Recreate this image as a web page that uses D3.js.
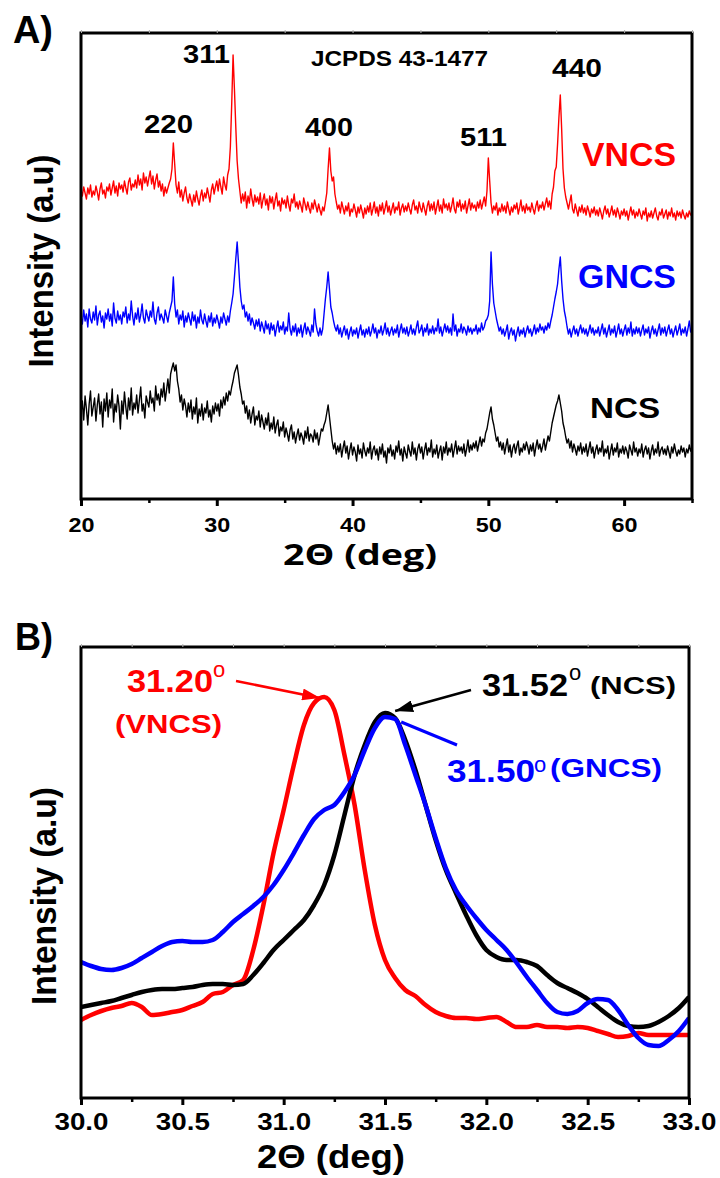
<!DOCTYPE html>
<html>
<head>
<meta charset="utf-8">
<script src="https://cdn.jsdelivr.net/npm/d3@7"></script>
<style>
  body { margin: 0; background: #fff; }
  text { font-family: "Liberation Sans", Arial, sans-serif; font-weight: bold; }
  .title { font-family: "Open Sans", "Liberation Sans", sans-serif; }
</style>
</head>
<body>
<div id="main"></div>
<script>

/// Panel A data: wide XRD scans, 20-65 deg every 0.1 deg (intensity in a.u., offset stacked) ///
const thetaStartA = 20, thetaStepA = 0.1;

const vncsA = [
  309, 303, 312, 306, 300, 311, 305, 314, 302, 308,   // 20
  304, 313, 307, 299, 310, 316, 305, 309, 301, 312,
  308, 315, 304, 311, 318, 306, 313, 303, 316, 310,
  314, 307, 318, 311, 305, 317, 321, 309, 315, 312,
  319, 311, 324, 314, 320, 309, 326, 316, 322, 313,
  321, 328, 315, 323, 310, 319, 325, 312, 318, 308,   // 25
  315, 303, 312, 306, 311, 316, 320, 330, 356, 335,
  314, 306, 317, 302, 309, 298, 306, 312, 301, 296,
  305, 299, 293, 304, 297, 308, 300, 294, 303, 309,
  298, 306, 301, 311, 304, 297, 309, 315, 305, 312,
  318, 308, 320, 312, 305, 322, 314, 309, 324, 330,   // 30
  352, 395, 444, 410, 372, 338, 320, 308, 296, 305,
  298, 307, 291, 303, 296, 310, 300, 293, 304, 297,
  302, 295, 306, 291, 299, 305, 294, 300, 289, 303,
  296, 302, 290, 299, 306, 293, 298, 288, 301, 295,
  299, 291, 303, 294, 288, 300, 296, 305, 292, 297,   // 35
  290, 298, 293, 287, 301, 295, 289, 297, 291, 286,
  296, 290, 299, 293, 287, 295, 289, 284, 292, 288,
  297, 306, 330, 351, 328, 318, 322, 305, 297, 290,
  294, 286, 297, 291, 285, 293, 288, 296, 283, 290,
  287, 295, 289, 282, 292, 286, 294, 288, 281, 291,   // 40
  285, 293, 287, 296, 284, 290, 297, 286, 292, 283,
  294, 288, 296, 285, 291, 298, 287, 293, 284, 290,
  296, 286, 292, 289, 297, 284, 291, 295, 287, 293,
  288, 296, 290, 285, 294, 299, 289, 293, 286, 297,
  291, 287, 296, 290, 284, 293, 298, 288, 295, 289,   // 45
  297, 285, 292, 299, 288, 294, 286, 300, 291, 295,
  289, 296, 287, 293, 301, 290, 286, 297, 292, 299,
  288, 295, 290, 298, 286, 293, 300, 289, 296, 291,
  294, 288, 297, 291, 299, 290, 296, 302, 293, 308,
  341, 318, 296, 286, 293, 289, 296, 284, 291, 287,   // 50
  295, 288, 293, 286, 297, 290, 284, 292, 287, 294,
  290, 296, 285, 291, 299, 288, 293, 286, 295, 289,
  292, 287, 296, 290, 285, 293, 298, 288, 294, 291,
  297, 289, 295, 301, 292, 298, 290, 305, 312, 328,
  332, 355, 382, 404, 370, 330, 311, 302, 296, 290,   // 55
  297, 304, 290, 286, 295, 289, 283, 292, 287, 294,
  286, 291, 284, 293, 288, 282, 290, 286, 292, 284,
  289, 283, 291, 286, 280, 288, 293, 285, 290, 282,
  287, 293, 284, 289, 282, 291, 286, 280, 288, 284,
  290, 283, 288, 279, 286, 292, 284, 289, 281, 287,   // 60
  283, 290, 285, 280, 288, 284, 291, 278, 286, 282,
  288, 281, 286, 291, 283, 279, 287, 284, 290, 281,
  285, 289, 280, 287, 283, 291, 282, 286, 279, 288,
  283, 287, 281, 289, 284, 280, 286, 282, 288, 284,
  286
];

const gncsA = [
  182, 175, 189, 178, 185, 172, 190, 180, 176, 187,   // 20
  179, 193, 174, 184, 188, 177, 183, 171, 186, 180,
  190, 178, 185, 173, 196, 181, 176, 188, 179, 184,
  175, 187, 182, 192, 176, 185, 179, 198, 183, 174,
  186, 180, 191, 177, 184, 195, 181, 176, 189, 183,
  178, 188, 182, 197, 180, 175, 186, 192, 179, 185,   // 25
  181, 176, 189, 183, 177, 186, 192, 198, 222, 195,
  182, 189, 175, 184, 179, 188, 172, 183, 177, 186,
  180, 174, 187, 178, 184, 171, 182, 176, 189, 179,
  175, 185, 178, 172, 183, 177, 186, 173, 181, 176,
  184, 178, 171, 182, 176, 186, 180, 174, 183, 177,   // 30
  188, 196, 205, 222, 240, 257, 236, 212, 198, 190,
  194, 182, 187, 178, 185, 174, 181, 176, 170, 179,
  173, 180, 168, 177, 172, 166, 178, 170, 175, 165,
  176, 169, 174, 163, 171, 178, 167, 173, 169, 177,
  165, 172, 168, 186, 170, 164, 173, 167, 175, 163,   // 35
  171, 166, 174, 162, 170, 176, 165, 172, 168, 163,
  174, 167, 190, 175, 168, 163, 171, 164, 170, 185,
  200, 212, 227, 210, 192, 186, 178, 172, 168, 174,
  165, 171, 162, 168, 173, 164, 170, 160, 167, 172,
  163, 169, 165, 171, 161, 168, 174, 164, 169, 162,   // 40
  170, 165, 172, 163, 168, 175, 166, 171, 161, 169,
  166, 173, 164, 169, 176, 165, 171, 163, 168, 172,
  164, 170, 166, 174, 162, 169, 175, 166, 171, 165,
  172, 163, 168, 174, 165, 170, 164, 172, 178, 166,
  169, 174, 163, 171, 167, 175, 164, 170, 166, 173,   // 45
  165, 171, 168, 180, 166, 172, 163, 169, 175, 167,
  173, 166, 171, 164, 185, 168, 174, 163, 170, 167,
  175, 166, 172, 169, 164, 173, 167, 171, 165, 170,
  168, 174, 165, 171, 167, 176, 169, 172, 178, 180,
  184, 198, 247, 215, 196, 188, 180, 174, 168, 172,   // 50
  165, 170, 163, 168, 174, 160, 167, 171, 164, 169,
  158, 166, 172, 163, 169, 165, 171, 162, 168, 173,
  166, 170, 163, 168, 174, 165, 171, 167, 175, 169,
  172, 166, 173, 169, 176, 171, 178, 184, 192, 200,
  207, 215, 230, 242, 218, 200, 188, 181, 172, 165,   // 55
  170, 162, 168, 173, 165, 170, 163, 169, 174, 166,
  171, 165, 170, 163, 168, 174, 166, 171, 164, 169,
  166, 172, 163, 169, 175, 165, 171, 162, 168, 174,
  164, 170, 166, 173, 162, 168, 175, 165, 170, 163,
  169, 174, 164, 171, 166, 177, 163, 170, 165, 172,   // 60
  166, 171, 163, 169, 174, 164, 170, 166, 172, 161,
  168, 173, 165, 170, 163, 169, 175, 164, 171, 166,
  172, 163, 169, 174, 165, 170, 162, 168, 173, 164,
  169, 175, 164, 170, 166, 172, 163, 170, 178, 167,
  171
];

const ncsA = [
  86, 98, 79, 103, 90, 74, 95, 108, 83, 92,           // 20
  101, 78, 94, 105, 85, 97, 72, 100, 88, 106,
  82, 99, 91, 110, 77, 95, 87, 104, 93, 70,
  98, 85, 107, 92, 80, 101, 89, 111, 84, 96,
  90, 104, 86, 99, 112, 88, 95, 81, 103, 97,
  92, 108, 96, 101, 88, 113, 99, 105, 94, 110,        // 25
  102, 116, 98, 109, 120, 106, 125, 131, 136, 128,
  134, 118, 110, 97, 104, 89, 100, 93, 82, 96,
  87, 99, 80, 92, 85, 101, 76, 90, 83, 95,
  79, 91, 86, 98, 82, 89, 77, 93, 85, 96,
  88, 95, 83, 99, 91, 102, 94, 106, 98, 108,          // 30
  104, 112, 118, 126, 130, 134, 124, 112, 105, 95,
  98, 86, 93, 80, 89, 76, 85, 92, 74, 83,
  79, 88, 72, 84, 77, 70, 81, 74, 86, 68,
  76, 70, 82, 66, 74, 79, 63, 72, 68, 77,
  62, 71, 65, 58, 69, 74, 60, 67, 56, 64,             // 35
  70, 59, 66, 62, 55, 68, 61, 72, 58, 65,
  63, 57, 69, 60, 66, 54, 62, 70, 68, 74,
  78, 86, 94, 82, 70, 58, 50, 56, 45, 53,
  47, 55, 42, 51, 58, 46, 53, 40, 49, 56,
  44, 52, 47, 38, 54, 45, 50, 41, 56, 48,             // 40
  43, 51, 46, 57, 40, 49, 53, 44, 50, 39,
  52, 45, 55, 42, 48, 36, 51, 46, 54, 43,
  49, 40, 53, 47, 58, 44, 50, 38, 52, 46,
  41, 54, 48, 43, 57, 45, 51, 39, 50, 55,
  46, 52, 40, 49, 56, 44, 51, 47, 59, 42,             // 45
  50, 45, 54, 41, 48, 53, 39, 52, 46, 57,
  44, 51, 47, 55, 42, 50, 58, 45, 53, 48,
  52, 46, 55, 43, 50, 59, 47, 54, 49, 56,
  51, 58, 48, 55, 62, 53, 60, 57, 66, 70,
  78, 86, 92, 80, 74, 66, 58, 62, 52, 57,             // 50
  49, 56, 45, 53, 60, 47, 54, 42, 51, 55,
  46, 53, 58, 44, 51, 47, 55, 49, 57, 52,
  45, 54, 48, 56, 43, 52, 59, 50, 55, 47,
  53, 60, 49, 56, 63, 58, 67, 76, 82, 88,
  94, 98, 104, 96, 88, 76, 70, 62, 56, 60,            // 55
  51, 58, 47, 55, 50, 44, 53, 48, 56, 45,
  52, 47, 55, 43, 50, 57, 46, 52, 41, 49,
  54, 45, 51, 47, 58, 43, 50, 46, 53, 40,
  48, 55, 44, 51, 47, 56, 42, 50, 46, 53,
  45, 52, 48, 41, 54, 49, 44, 57, 47, 51,             // 60
  43, 50, 46, 55, 42, 49, 53, 45, 51, 40,
  48, 54, 44, 50, 46, 57, 43, 49, 52, 45,
  50, 44, 53, 47, 41, 52, 46, 55, 48, 43,
  49, 45, 53, 47, 51, 42, 50, 46, 54, 48,
  52
];

/// Panel B data: zoom on the (311) peak, 30-33 deg every 0.05 deg ///
const thetaStartB = 30, thetaStepB = 0.05;

const vncsB = [
  78, 83, 87, 90, 92, 95, 91, 83, 84, 86,
  88, 92, 96, 104, 106, 113, 118, 148, 193, 245,
  288, 333, 373, 395, 401, 388, 343, 293, 228, 173,
  138, 120, 108, 102, 93, 86, 82, 80, 80, 79,
  80, 81, 76, 71, 71, 73, 71, 71, 70, 71,
  70, 67, 64, 61, 62, 65, 63, 63, 63, 63,
  63
];

const gncsB = [
  136, 132, 129, 128, 130, 134, 140, 146, 152, 156,
  157, 156, 156, 158, 166, 176, 184, 192, 201, 213,
  228, 245, 263, 279, 288, 293, 306, 323, 348, 370,
  381, 379, 353, 323, 293, 260, 230, 208, 193, 180,
  168, 158, 148, 135, 121, 108, 95, 86, 84, 87,
  95, 99, 98, 88, 73, 60, 53, 52, 58, 67,
  80
];

const ncsB = [
  91, 93, 95, 97, 100, 103, 106, 108, 109, 109,
  110, 111, 113, 114, 114, 113, 114, 123, 135, 148,
  158, 168, 178, 193, 213, 243, 283, 323, 353, 376,
  385, 380, 358, 328, 293, 258, 228, 205, 183, 163,
  148, 141, 138, 138, 136, 132, 123, 115, 110, 105,
  99, 91, 83, 76, 72, 71, 72, 76, 82, 90,
  101
];

// axis ticks
const ticksA = [20, 30, 40, 50, 60];
const minorA = [25, 35, 45, 55, 65];
const ticksB = [30.0, 30.5, 31.0, 31.5, 32.0, 32.5, 33.0];
const minorB = [30.25, 30.75, 31.25, 31.75, 32.25, 32.75];

// peak positions marked in panel B (deg, peak height)
const peakVNCS = [31.18, 401];
const peakNCS = [31.55, 386];
const peakGNCS = [31.58, 376];

const hklLabels = ['220', '311', '400', '511', '440'];


/// Drawing ///

const w = 720;
const h = 1178;

const svg = d3.select('#main')
                .append('svg')
                .attr('width', w)
                .attr('height', h);

const xA = d3.scaleLinear().domain([20, 65]).range([81, 692]);
const yA = d3.scaleLinear().domain([0, 466]).range([499, 33]);
const xB = d3.scaleLinear().domain([30, 33]).range([81, 689]);
const yB = d3.scaleLinear().domain([0, 451]).range([1098, 647]);

const toPoints = (vals, start, step) => vals.map((v, i) => [start + i * step, v]);

const lineA = d3.line().x(d => xA(d[0])).y(d => yA(d[1]));
const lineB = d3.line().x(d => xB(d[0])).y(d => yB(d[1])).curve(d3.curveMonotoneX);

// text helper: len squeezes/stretches the glyphs to the measured width
const addText = (str, x, y, size, opts = {}) => {
    let t = svg.append('text')
                .attr('x', x)
                .attr('y', y)
                .attr('font-size', size)
                .attr('fill', opts.fill || '#000')
                .attr('text-anchor', opts.anchor || 'start')
                .text(str);
    if (opts.len) t.attr('textLength', opts.len).attr('lengthAdjust', 'spacingAndGlyphs');
    if (opts.weight) t.style('font-weight', opts.weight);
    if (opts.cls) t.attr('class', opts.cls);
    if (opts.rotate) t.attr('transform', 'rotate(-90,' + x + ',' + y + ')');
    return t;
};

// bottom axis with major + minor ticks, faint ticks on top edge
const drawAxes = (x, yBottom, yTop, major, minor, fmt, labelDy, labelSize, labelLen) => {

    let gMaj = svg.append('g')
                .attr('transform', 'translate(0,' + yBottom + ')')
                .call(d3.axisBottom(x).tickValues(major).tickSize(7).tickFormat(fmt))
                .attr('font-family', null)
                .attr('font-size', null);
    gMaj.select('.domain').remove();
    gMaj.selectAll('line').attr('stroke-width', 3);
    gMaj.selectAll('text')
        .attr('y', labelDy)
        .attr('dy', null)
        .attr('font-size', labelSize)
        .attr('textLength', labelLen)
        .attr('lengthAdjust', 'spacingAndGlyphs');

    let gMin = svg.append('g')
                .attr('transform', 'translate(0,' + yBottom + ')')
                .call(d3.axisBottom(x).tickValues(minor).tickSize(4).tickFormat(() => ''));
    gMin.select('.domain').remove();
    gMin.selectAll('line').attr('stroke-width', 2.5);

    let gTop = svg.append('g')
                .attr('transform', 'translate(0,' + yTop + ')')
                .call(d3.axisTop(x).tickValues(major.concat(minor)).tickSize(3).tickFormat(() => ''));
    gTop.select('.domain').remove();
    gTop.selectAll('line').attr('stroke', '#b0b0b0').attr('stroke-width', 1);
};


/// Panel A ///

[[vncsA, 'red'], [gncsA, 'blue'], [ncsA, 'black']].forEach(s => {
    svg.append('path')
        .datum(toPoints(s[0], thetaStartA, thetaStepA))
        .attr('d', lineA)
        .attr('fill', 'none')
        .attr('stroke', s[1])
        .attr('stroke-width', 1.4)
        .attr('stroke-linejoin', 'round');
});

svg.append('rect')      // frame
    .attr('x', xA(20)).attr('y', yA(466))
    .attr('width', xA(65) - xA(20)).attr('height', yA(0) - yA(466))
    .attr('fill', 'none').attr('stroke', '#000').attr('stroke-width', 3);

drawAxes(xA, 499, 33, ticksA, minorA, d3.format('d'), 33, 20, 26);

addText('A)', 13, 43, 39, { len: 40 });
addText('JCPDS 43-1477', 311, 66, 22, { len: 177 });

// hkl labels, left edge / baseline / width
[[144, 133, 49], [183, 63, 47], [305, 136, 48], [460, 146, 47], [552, 77, 50]].forEach((p, i) => {
    addText(hklLabels[i], p[0], p[1], 26, { len: p[2] });
});

addText('VNCS', 582, 166, 33, { fill: 'red', len: 94 });
addText('GNCS', 578, 288, 33, { fill: 'blue', len: 98 });
addText('NCS', 590, 418, 30, { len: 70 });

addText('2Θ (deg)', 360, 565, 28, { anchor: 'middle', len: 154, cls: 'title' });
addText('Intensity (a.u)', 53, 261, 35, { anchor: 'middle', len: 213, rotate: true });


/// Panel B ///

svg.append('clipPath').attr('id', 'clipB')
    .append('rect')
    .attr('x', xB(30)).attr('y', yB(451))
    .attr('width', xB(33) - xB(30)).attr('height', yB(0) - yB(451));

[[vncsB, 'red'], [ncsB, 'black'], [gncsB, 'blue']].forEach(s => {
    svg.append('path')
        .datum(toPoints(s[0], thetaStartB, thetaStepB))
        .attr('d', lineB)
        .attr('clip-path', 'url(#clipB)')
        .attr('fill', 'none')
        .attr('stroke', s[1])
        .attr('stroke-width', 4.5)
        .attr('stroke-linejoin', 'round');
});

svg.append('rect')      // frame
    .attr('x', xB(30)).attr('y', yB(451))
    .attr('width', xB(33) - xB(30)).attr('height', yB(0) - yB(451))
    .attr('fill', 'none').attr('stroke', '#000').attr('stroke-width', 3);

drawAxes(xB, 1098, 647, ticksB, minorB, d3.format('.1f'), 32, 24, 54);

addText('B)', 15, 650, 39, { len: 38 });

// arrow heads
const defs = svg.append('defs');
['red', 'black'].forEach(c => {
    defs.append('marker')
        .attr('id', 'head-' + c)
        .attr('markerUnits', 'userSpaceOnUse')
        .attr('markerWidth', 18).attr('markerHeight', 12)
        .attr('refX', 18).attr('refY', 6)
        .attr('orient', 'auto')
        .append('path')
        .attr('d', 'M0,0 L18,6 L0,12 Z')
        .attr('fill', c);
});

svg.append('line')      // 31.20 arrow
    .attr('x1', 236).attr('y1', 681)
    .attr('x2', xB(peakVNCS[0])).attr('y2', yB(peakVNCS[1]) + 1)
    .attr('stroke', 'red').attr('stroke-width', 2.5)
    .attr('marker-end', 'url(#head-red)');

svg.append('line')      // 31.52 arrow
    .attr('x1', 471).attr('y1', 690)
    .attr('x2', xB(peakNCS[0])).attr('y2', yB(peakNCS[1]) - 1)
    .attr('stroke', 'black').attr('stroke-width', 2.5)
    .attr('marker-end', 'url(#head-black)');

svg.append('line')      // 31.50 pointer (no head)
    .attr('x1', 457).attr('y1', 745)
    .attr('x2', xB(peakGNCS[0])).attr('y2', yB(peakGNCS[1]))
    .attr('stroke', 'blue').attr('stroke-width', 3);

addText('31.20', 127, 692, 32, { fill: 'red', len: 86 });
addText('o', 213, 677, 22, { fill: 'red', weight: 'normal' });
addText('(VNCS)', 115, 733, 26, { fill: 'red', len: 107 });

addText('31.52', 482, 696, 32, { len: 86 });
addText('o', 569, 680, 22, { weight: 'normal' });
addText('(NCS)', 590, 694, 24, { len: 86 });

addText('31.50', 447, 782, 32, { fill: 'blue', len: 88 });
addText('o', 534, 772, 22, { fill: 'blue', weight: 'normal' });
addText('(GNCS)', 550, 777, 25, { fill: 'blue', len: 112 });

addText('2Θ (deg)', 331, 1168, 34, { anchor: 'middle', len: 148 });
addText('Intensity (a.u)', 56, 896, 35, { anchor: 'middle', len: 218, rotate: true });

</script>
</body>
</html>
